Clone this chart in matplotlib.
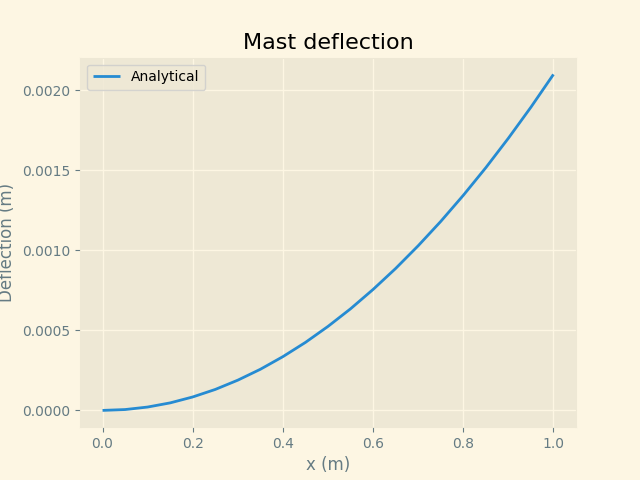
import matplotlib
matplotlib.use("Agg")
import matplotlib.pyplot as plt

x_vals = [0.0, 0.05, 0.1, 0.15, 0.2, 0.25, 0.3, 0.35, 0.4, 0.45, 0.5,
          0.55, 0.6, 0.65, 0.7, 0.75, 0.8, 0.85, 0.9, 0.95, 1.0]
deflection = [0.0, 0.0000053, 0.000021, 0.000047, 0.000084, 0.000131, 0.000189,
              0.000257, 0.000336, 0.000425, 0.000525, 0.000635, 0.000756,
              0.000887, 0.001029, 0.001181, 0.001344, 0.001517, 0.001701,
              0.001895, 0.0021]

plt.style.use("Solarize_Light2")
fig, ax = plt.subplots(figsize=(6.4, 4.8), dpi=100)
ax.plot(x_vals, deflection, label="Analytical")
ax.set_title("Mast deflection")
ax.set_xlabel("x (m)")
ax.set_ylabel("Deflection (m)")
ax.legend(loc="upper left")
fig.savefig("out.png")
